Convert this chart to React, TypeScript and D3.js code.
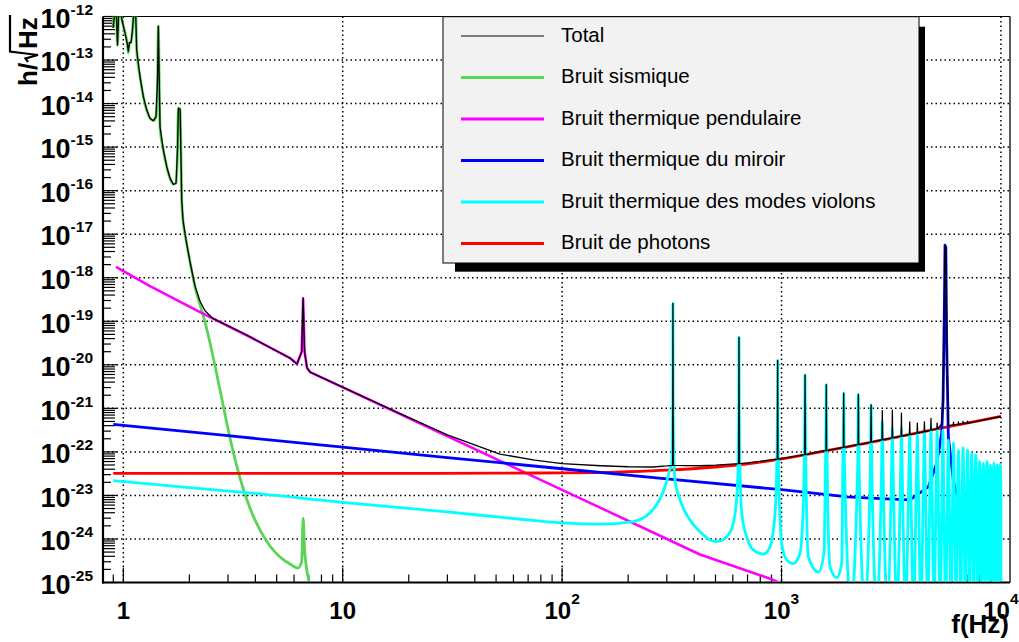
import React from "react";
import * as d3 from "d3";

type Pt = [number, number];

// ---------------- data (frequency in Hz, amplitude in 1/sqrt(Hz)) ----------------
const seismicNoise: Pt[] = [
  [0.898, 5.5e-13], [0.926, 2e-12], [0.941, 2.2e-13], [0.956, 2e-12], [0.986, 8.3e-13],
  [1.018, 4.2e-13], [1.045, 2.2e-13], [1.054, 1.45e-13], [1.067, 2.5e-13], [1.084, 2.5e-13],
  [1.101, 4.9e-13], [1.119, 1.4e-12], [1.137, 1.5e-12], [1.151, 1.7e-13], [1.192, 4.1e-14],
  [1.234, 1.44e-14], [1.279, 7.1e-15], [1.323, 4.6e-15], [1.37, 4.05e-15], [1.409, 5.0e-15],
  [1.432, 3.5e-14], [1.444, 6.0e-13], [1.458, 3.5e-14], [1.47, 2.9e-15], [1.522, 8.6e-16],
  [1.577, 3.55e-16], [1.633, 1.92e-16], [1.69, 1.4e-16], [1.739, 1.48e-16], [1.766, 8.6e-16],
  [1.782, 7.8e-15], [1.815, 7.4e-15], [1.846, 6.1e-17], [1.871, 2.1e-17], [1.931, 7.4e-18],
  [2.014, 2.3e-18], [2.123, 6.1e-19], [2.237, 2.37e-19], [2.357, 9.6e-20], [2.537, 1.97e-20],
  [2.76, 2.64e-21], [3.064, 2.08e-22], [3.403, 2.5e-23], [3.78, 5.1e-24], [4.2, 1.6e-24],
  [4.66, 6.9e-25], [5.18, 3.86e-25], [5.75, 2.66e-25], [6.26, 2.15e-25], [6.5, 3.0e-25],
  [6.6, 3.0e-24], [6.7, 5.6e-25], [7.1, 8e-26], [7.6, 2e-26],
];

const pendulumNoise: Pt[] = [
  [0.926, 1.77e-18], [1.323, 6.4e-19], [2.237, 1.63e-19], [3.78, 4.35e-20], [5.75, 1.43e-20],
  [6.19, 1.04e-20], [6.5, 2.0e-20], [6.6, 3.3e-19], [6.7, 2.0e-20], [6.88, 8.45e-21],
  [7.1, 6.8e-21], [18.25, 7.4e-22], [52.1, 6.2e-23], [148.9, 5.25e-24], [425, 4.4e-25],
  [902, 1.19e-25], [1093, 7.4e-26],
];

const mirrorNoise: Pt[] = [
  [0.9, 4.3e-22], [3, 2.35e-22], [10, 1.29e-22], [30, 7.4e-23], [100, 4.1e-23], [300, 2.4e-23],
  [1000, 1.36e-23], [2000, 9.3e-24], [3000, 8.3e-24], [3850, 7.9e-24], [4670, 1.58e-23],
  [5100, 5.5e-23], [5370, 2.7e-22], [5450, 1.6e-21], [5530, 3.2e-19], [5560, 5.6e-18],
  [5610, 5.0e-18], [5660, 3.2e-20], [5760, 2.2e-22], [6070, 2.2e-23], [6510, 5.5e-24],
  [7500, 2e-24], [10000, 8e-25],
];

const photonNoise: Pt[] = [
  [0.9, 3.2e-23], [10, 3.2e-23], [50, 3.25e-23], [100, 3.3e-23], [150, 3.35e-23], [200, 3.5e-23],
  [300, 3.8e-23], [500, 4.5e-23], [700, 5.3e-23], [1000, 6.9e-23], [1500, 1.0e-22],
  [2000, 1.3e-22], [3000, 1.95e-22], [5000, 3.3e-22], [7000, 4.6e-22], [10000, 6.5e-22],
];

// violin modes: detailed low part (up to the 6th harmonic)
const violinLowModes: Pt[] = [
  [0.9, 2.19e-23], [2, 1.51e-23], [5, 1.0e-23], [10, 6.9e-24], [30, 4.17e-24], [60, 2.95e-24],
  [100, 2.34e-24], [150, 2.19e-24], [210, 2.51e-24], [250, 3.9e-24], [278, 7.9e-24],
  [298, 1.9e-23], [309, 3.8e-23], [316.8, 6.3e-23], [319.5, 1.6e-21], [320, 2.57e-19],
  [320.5, 1.6e-21], [323.2, 6.3e-23], [327, 2.29e-23], [345, 7.9e-24], [383, 2.69e-24],
  [425, 1.48e-24], [472, 9.5e-25], [507, 8.7e-25], [563, 1.12e-24], [603, 2.29e-24],
  [625, 9.3e-24], [634, 5e-23], [638.5, 1.3e-21], [640, 4.27e-20], [641.5, 1.3e-21],
  [646, 5e-23], [659, 3.9e-24], [694, 1.12e-24], [744, 5.6e-25], [826, 4.5e-25],
  [886, 6.6e-25], [934, 3.9e-24], [951, 4e-23], [958, 1e-21], [960, 1.26e-20], [962, 1e-21],
  [969, 4e-23], [1002, 7.9e-25], [1056, 3.3e-25], [1132, 2.7e-25], [1214, 4.7e-25],
  [1255, 5e-24], [1268, 4e-23], [1277, 1e-21], [1280, 5.9e-21], [1283, 1e-21], [1292, 4e-23],
  [1325, 3.9e-25], [1472, 1.74e-25], [1562, 4.8e-25], [1585, 4e-23], [1597, 1e-21],
  [1600, 3.5e-21], [1603, 1e-21], [1615, 4e-23], [1663, 2.3e-25], [1785, 1.29e-25],
  [1881, 2.8e-25], [1902, 4e-23], [1916, 8e-22], [1920, 2.24e-21], [1924, 8e-22], [1938, 4e-23],
];
const violinLowLastPeak = 1920;

// violin modes: higher harmonics (peak frequency, cyan peak height, shoulder level, trough before the peak)
const violinHighFreqs = [
  2240, 2560, 2880, 3200, 3520, 3840, 4160, 4480, 4800, 5120, 5440, 5760, 6080,
  6400, 6720, 7040, 7360, 7680, 8000, 8320, 8640, 8960, 9280, 9600, 9920,
];
const violinHighTops = [
  2.09e-21, 1.2e-21, 5.0e-22, 3.55e-22, 3.55e-22, 2.82e-22, 2.82e-22, 3.16e-22, 3.55e-22,
  3.16e-22, 3.16e-22, 1.86e-22, 1.58e-22, 1.1e-22, 1.23e-22, 1.1e-22, 9.3e-23, 8.5e-23,
  6.0e-23, 5.5e-23, 6.0e-23, 5.0e-23, 5.6e-23, 5.0e-23, 5.2e-23,
];
const violinHighShoulders = [
  4e-23, 4e-23, 4e-23, 4e-23, 4e-23, 4e-23, 4e-23, 4e-23, 4e-23, 4e-23, 2e-23, 1.5e-23,
  1.5e-23, 1.5e-23, 1.5e-23, 1.5e-23, 1.5e-23, 1.5e-23, 1.2e-23, 1.2e-23, 1.2e-23, 1.2e-23,
  1.2e-23, 1.2e-23, 1.2e-23,
];
const violinHighTroughs = [
  3e-26, 3e-26, 3e-26, 3e-26, 3e-26, 3e-26, 3e-26, 3e-26, 3e-26, 3e-26, 3e-26, 3e-26, 3e-26,
  3e-26, 3e-26, 3e-26, 3e-26, 3e-26, 3e-26, 3e-26, 3e-26, 3e-26, 3e-26, 3e-26, 3e-26,
];
const violinEnd: Pt = [10000, 3e-26];

// total: smooth base + resonance spikes
const totalBase: Pt[] = [
  [0.898, 5.5e-13], [0.926, 2e-12], [0.941, 2.2e-13], [0.956, 2e-12], [0.986, 8.3e-13],
  [1.018, 4.2e-13], [1.045, 2.2e-13], [1.054, 1.6e-13], [1.067, 2.5e-13], [1.084, 2.5e-13],
  [1.101, 4.9e-13], [1.119, 1.4e-12], [1.137, 1.5e-12], [1.151, 1.7e-13], [1.192, 4.1e-14],
  [1.234, 1.44e-14], [1.279, 7.1e-15], [1.323, 4.6e-15], [1.37, 4.05e-15], [1.409, 5.0e-15],
  [1.432, 3.5e-14], [1.444, 6.0e-13], [1.458, 3.5e-14], [1.47, 2.9e-15], [1.522, 8.6e-16],
  [1.577, 3.55e-16], [1.633, 1.92e-16], [1.69, 1.4e-16], [1.739, 1.48e-16], [1.766, 8.6e-16],
  [1.782, 7.8e-15], [1.815, 7.4e-15], [1.846, 6.1e-17], [1.871, 2.1e-17], [1.931, 7.4e-18],
  [2.014, 2.3e-18], [2.123, 6.4e-19], [2.237, 2.88e-19], [2.357, 1.74e-19], [2.537, 1.2e-19],
  [3.78, 4.4e-20], [5.75, 1.43e-20], [6.19, 1.04e-20], [6.5, 2.0e-20], [6.6, 3.5e-19],
  [6.7, 2.0e-20], [6.88, 8.45e-21], [7.1, 6.8e-21], [18.25, 7.6e-22], [30, 2.45e-22],
  [52, 8.9e-23], [75, 6.5e-23], [100, 5.4e-23], [150, 4.8e-23], [200, 4.55e-23],
  [260, 4.5e-23], [300, 4.75e-23], [425, 4.8e-23], [500, 4.95e-23], [700, 5.6e-23],
  [1000, 7.0e-23], [1500, 1.02e-22], [2000, 1.32e-22], [3000, 1.97e-22], [4000, 2.6e-22],
  [5000, 3.32e-22], [5370, 4.3e-22], [5450, 1.6e-21], [5530, 3.2e-19], [5560, 5.6e-18],
  [5610, 5.0e-18], [5660, 3.2e-20], [5760, 4.0e-22], [7000, 4.65e-22], [8500, 5.5e-22],
  [10000, 6.5e-22],
];
const totalPeakFreqs = [
  320, 640, 960, 1280, 1600, 1920, 2240, 2560, 2880, 3200, 3520, 3840, 4160, 4480, 4800,
  5120, 6080, 6400, 6720, 7040,
];
const totalPeakTops = [
  2.57e-19, 4.27e-20, 1.26e-20, 5.9e-21, 3.5e-21, 2.24e-21, 2.09e-21, 1.2e-21, 8.9e-22,
  9.1e-22, 7.8e-22, 4.9e-22, 4.6e-22, 4.9e-22, 5.9e-22, 4.6e-22, 4.8e-22, 4.9e-22, 5.0e-22,
  5.1e-22,
];
const totalPeakBases = [
  4.9e-23, 5.4e-23, 6.8e-23, 8.7e-23, 1.07e-22, 1.27e-22, 1.47e-22, 1.68e-22, 1.9e-22,
  2.1e-22, 2.3e-22, 2.5e-22, 2.7e-22, 2.9e-22, 3.15e-22, 3.4e-22, 4.15e-22, 4.3e-22,
  4.45e-22, 4.6e-22,
];

// axes
const xDomain: [number, number] = [0.808, 1.1e4];
const yDomain: [number, number] = [1e-25, 1e-12];
const xMajorTicks = [1, 10, 100, 1000, 10000];
const xMajorExps = [0, 1, 2, 3, 4];
const yMajorExps = [-12, -13, -14, -15, -16, -17, -18, -19, -20, -21, -22, -23, -24, -25];

const legendLabels = [
  "Total",
  "Bruit sismique",
  "Bruit thermique pendulaire",
  "Bruit thermique du miroir",
  "Bruit thermique des modes violons",
  "Bruit de photons",
];

// ---------------- styles ----------------
const FONT = "'Liberation Sans', Arial, Helvetica, sans-serif";
const W = 1019;
const H = 642;
const P = { left: 103, right: 1010, top: 16.5, bottom: 582.5 };
const COLORS = {
  total: "#000000",
  seismic: "#59d454",
  pendulum: "#ff00ff",
  mirror: "#0000ff",
  violin: "#00ffff",
  photon: "#ff0000",
};
const legendColors = [COLORS.total, COLORS.seismic, COLORS.pendulum, COLORS.mirror, COLORS.violin, COLORS.photon];
const legendWidths = [1.2, 3, 3, 3, 3, 3];
const VIOLIN_SIDE = 0.008;
const TOTAL_SIDE = 0.003;

export default function App() {
  const x = d3.scaleLog().domain(xDomain).range([P.left, P.right]);
  const y = d3.scaleLog().domain(yDomain).range([P.bottom, P.top]);
  const line = d3.line<Pt>().x((d) => x(d[0])).y((d) => y(d[1]));
  const smooth = d3
    .line<Pt>()
    .x((d) => x(d[0]))
    .y((d) => y(d[1]))
    .curve(d3.curveMonotoneX);

  // violin curve
  const violinPts: Pt[] = violinLowModes.slice();
  let prev = violinLowLastPeak;
  violinHighFreqs.forEach((f, i) => {
    violinPts.push([Math.sqrt(prev * f), violinHighTroughs[i]]);
    violinPts.push([f * (1 - VIOLIN_SIDE), violinHighShoulders[i]]);
    violinPts.push([f, violinHighTops[i]]);
    violinPts.push([f * (1 + VIOLIN_SIDE), violinHighShoulders[i]]);
    prev = f;
  });
  violinPts.push(violinEnd);

  // total curve
  const totalPts: Pt[] = totalBase.slice();
  totalPeakFreqs.forEach((f, i) => {
    totalPts.push([f * (1 - TOTAL_SIDE), totalPeakBases[i]]);
    totalPts.push([f, totalPeakTops[i]]);
    totalPts.push([f * (1 + TOTAL_SIDE), totalPeakBases[i]]);
  });
  totalPts.sort((a, b) => a[0] - b[0]);

  // ticks
  const xMinor: number[] = [];
  for (let e = -1; e <= 3; e++)
    for (let k = 2; k <= 9; k++) {
      const v = k * Math.pow(10, e);
      if (v >= xDomain[0] && v <= xDomain[1]) xMinor.push(v);
    }
  const yMinor: { v: number; k: number }[] = [];
  for (let e = -25; e <= -13; e++)
    for (let k = 2; k <= 9; k++) yMinor.push({ v: k * Math.pow(10, e), k });

  const gridStyle = { stroke: "#000", strokeWidth: 1.5, strokeDasharray: "1.5,3" };

  return (
    <svg
      width={W}
      height={H}
      viewBox={`0 0 ${W} ${H}`}
      style={{ position: "absolute", left: 0, top: 0, background: "#fff" }}
      fontFamily={FONT}
    >
      <rect x={0} y={0} width={W} height={H} fill="#fff" />
      <defs>
        <clipPath id="plotClip">
          <rect x={P.left + 1} y={P.top} width={P.right - P.left - 1} height={P.bottom - P.top - 1} />
        </clipPath>
      </defs>

      {/* grid */}
      <g>
        {xMajorTicks.map((v) => (
          <line key={"gx" + v} x1={x(v)} x2={x(v)} y1={P.top} y2={P.bottom} {...gridStyle} />
        ))}
        {yMajorExps.slice(1, -1).map((e) => (
          <line key={"gy" + e} x1={P.left} x2={P.right} y1={y(Math.pow(10, e))} y2={y(Math.pow(10, e))} {...gridStyle} />
        ))}
      </g>

      {/* ticks */}
      <g stroke="#000" strokeWidth={1.2}>
        {xMajorTicks.map((v) => (
          <line key={"tx" + v} x1={x(v)} x2={x(v)} y1={P.bottom} y2={P.bottom - 15} />
        ))}
        {xMinor.map((v) => (
          <line key={"txm" + v} x1={x(v)} x2={x(v)} y1={P.bottom} y2={P.bottom - 8} />
        ))}
        {yMajorExps.map((e) => (
          <line key={"ty" + e} x1={P.left} x2={P.left + 14} y1={y(Math.pow(10, e))} y2={y(Math.pow(10, e))} />
        ))}
        {yMinor.map((t) => (
          <line key={"tym" + t.v} x1={P.left} x2={P.left + (t.k >= 4 ? 12 : 8)} y1={y(t.v)} y2={y(t.v)} />
        ))}
      </g>

      {/* frame */}
      <g fill="none" stroke="#000">
        <line x1={P.left} x2={P.right} y1={P.top} y2={P.top} strokeWidth={1} />
        <line x1={P.right} x2={P.right} y1={P.top} y2={P.bottom} strokeWidth={1.3} />
        <line x1={P.left} x2={P.left} y1={P.top} y2={P.bottom + 1} strokeWidth={2.2} />
        <line x1={P.left - 1} x2={P.right} y1={P.bottom} y2={P.bottom} strokeWidth={2.2} />
      </g>

      {/* curves */}
      <g clipPath="url(#plotClip)" fill="none" strokeLinejoin="round">
        <path d={smooth(seismicNoise) || ""} stroke={COLORS.seismic} strokeWidth={2.8} />
        <path d={line(pendulumNoise) || ""} stroke={COLORS.pendulum} strokeWidth={2.6} />
        <path d={smooth(photonNoise) || ""} stroke={COLORS.photon} strokeWidth={2.8} />
        <path d={line(mirrorNoise) || ""} stroke={COLORS.mirror} strokeWidth={2.8} />
        <path d={smooth(violinPts) || ""} stroke={COLORS.violin} strokeWidth={2.8} />
        <path d={line(totalPts) || ""} stroke={COLORS.total} strokeWidth={1.3} />
      </g>

      {/* x tick labels */}
      <g fontWeight="bold" fontSize={24} textAnchor="middle" fill="#000">
        {xMajorTicks.map((v, i) => (
          <text key={"lx" + v} x={x(v)} y={619}>
            {xMajorExps[i] === 0 ? "1" : "10"}
            {xMajorExps[i] > 1 ? (
              <tspan dy={-15} fontSize={15.5}>
                {String(xMajorExps[i])}
              </tspan>
            ) : null}
          </text>
        ))}
      </g>

      {/* y tick labels */}
      <g fontWeight="bold" fontSize={27} textAnchor="end" fill="#000">
        {yMajorExps.map((e) => (
          <text key={"ly" + e} x={93} y={y(Math.pow(10, e)) + 11.3}>
            10
            <tspan dy={-13} fontSize={15.5}>
              {String(e)}
            </tspan>
          </text>
        ))}
      </g>

      {/* axis titles */}
      <text x={1009} y={633} textAnchor="end" fontWeight="bold" fontSize={26} fill="#000">
        f(Hz)
      </text>
      <g transform="translate(37,86) rotate(-90)" fontWeight="bold" fontSize={26} fill="#000">
        <text x={0} y={0}>h/</text>
        <path d="M24,-9 L27.5,-11.5 L31,1 L34.5,-27 L71,-27" fill="none" stroke="#000" strokeWidth={2.2} />
        <text x={37} y={0}>Hz</text>
      </g>

      {/* legend */}
      <g>
        <rect x={455} y={26.7} width={470} height={245} fill="#000" />
        <rect x={443} y={16.7} width={476} height={246.3} fill="#f2f2f2" stroke="#000" strokeWidth={1} />
        {legendLabels.map((lab, i) => {
          const ly = 36 + i * 41.5;
          return (
            <g key={lab}>
              <line x1={461} x2={544} y1={ly} y2={ly} stroke={legendColors[i]} strokeWidth={legendWidths[i]} />
              <text x={561} y={ly + 5.5} fontSize={20.5} fill="#000">
                {lab}
              </text>
            </g>
          );
        })}
      </g>
    </svg>
  );
}
